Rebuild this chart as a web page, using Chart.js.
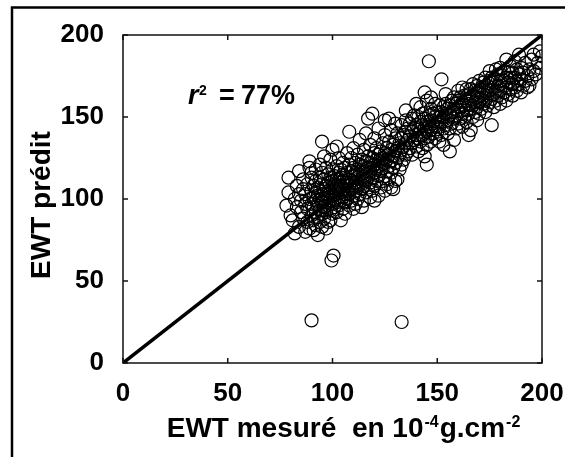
<!DOCTYPE html>
<html>
<head>
<meta charset="utf-8">
<script src="https://cdn.jsdelivr.net/npm/chart.js@4"></script>
<style>
  html, body { margin: 0; padding: 0; background: #fff; }
  #wrap { width: 565px; height: 457px; position: relative; }
</style>
</head>
<body>
<div id="wrap"><canvas id="graphique"></canvas></div>
<script>
// valeurs : [EWT mesuré, EWT prédit]
const points = [
  [78,96],[79,104],[79,113],[80,90],[81,87],[82,79],[82,100],[83,108],[83,95],[84,83],[84,103],[84,117],
  [85,92],[85,99],[86,88],[86,106],[86,112],[87,80],[87,97],[87,103],[88,86],[88,94],[88,109],[89,123],[89,119],[89,100],[89,82],[90,90],[90,97],[90,105],[90,113],[90,116],
  [91,81],[91,87],[91,95],[91,101],[91,108],[92,84],[92,92],[92,99],[92,104],[92,111],[92,118],[93,78],[93,89],[93,96],[93,102],[93,107],[94,86],[94,93],[94,100],[94,105],[94,113],[94,121],[95,135],[95,83],[95,91],[95,98],[95,103],[95,109],[95,116],
  [96,88],[96,95],[96,100],[96,106],[96,112],[96,126],[97,82],[97,92],[97,98],[97,103],[97,108],[97,119],[98,86],[98,96],[98,101],[98,105],[98,110],[98,115],[99,87],[99,93],[99,99],[99,104],[99,113],[99,124],[100,91],[100,97],[100,102],[100,107],[100,111],[100,118],[100,130],
  [101,95],[101,100],[101,105],[101,109],[101,114],[102,132],[102,92],[102,98],[102,103],[102,108],[102,112],[102,120],[103,96],[103,101],[103,106],[103,110],[103,116],[103,125],[104,87],[104,99],[104,104],[104,108],[104,113],[104,118],[105,94],[105,101],[105,106],[105,111],[105,115],[105,122],
  [106,91],[106,98],[106,103],[106,109],[106,113],[106,119],[107,100],[107,105],[107,110],[107,116],[107,128],[108,141],[108,96],[108,103],[108,108],[108,112],[108,121],[109,99],[109,106],[109,111],[109,117],[109,125],[110,94],[110,102],[110,108],[110,114],[110,119],[110,131],
  [111,97],[111,105],[111,110],[111,116],[111,122],[112,100],[112,107],[112,113],[112,118],[112,127],[113,103],[113,109],[113,115],[113,121],[113,136],[114,95],[114,106],[114,112],[114,118],[114,124],[115,99],[115,108],[115,114],[115,120],[115,130],
  [116,104],[116,111],[116,117],[116,123],[116,140],[117,149],[117,107],[117,113],[117,119],[117,126],[118,101],[118,110],[118,116],[118,122],[118,133],[119,152],[119,105],[119,113],[119,119],[119,125],[120,99],[120,108],[120,116],[120,121],[120,128],[120,137],
  [121,111],[121,118],[121,124],[121,131],[122,102],[122,114],[122,120],[122,127],[122,143],[123,107],[123,117],[123,123],[123,129],[124,111],[124,119],[124,125],[124,134],[125,148],[125,105],[125,114],[125,122],[125,128],[125,139],
  [126,109],[126,117],[126,124],[126,131],[127,149],[127,112],[127,120],[127,127],[127,135],[128,107],[128,116],[128,123],[128,130],[128,142],[129,106],[129,119],[129,126],[129,133],[130,111],[130,122],[130,129],[130,137],[130,146],
  [131,112],[131,125],[131,131],[131,140],[132,118],[132,127],[132,134],[133,121],[133,130],[133,137],[133,145],[134,124],[134,132],[134,139],[135,154],[135,127],[135,134],[135,141],[135,148],
  [136,129],[136,136],[136,143],[137,131],[137,138],[137,146],[138,127],[138,134],[138,141],[138,149],[139,136],[139,143],[139,151],[140,132],[140,139],[140,145],[140,158],
  [141,129],[141,137],[141,143],[141,150],[142,135],[142,141],[142,147],[142,156],[143,131],[143,139],[143,145],[143,152],[144,126],[144,165],[144,137],[144,143],[144,149],[145,121],[145,133],[145,141],[145,147],[145,160],
  [146,184],[146,138],[146,144],[146,151],[147,162],[147,135],[147,142],[147,148],[147,155],[148,140],[148,146],[148,152],[149,137],[149,144],[149,150],[149,158],[150,141],[150,147],[150,153],
  [151,135],[151,144],[151,150],[151,157],[152,173],[152,139],[152,147],[152,153],[153,133],[153,143],[153,150],[153,156],[154,164],[154,145],[154,152],[154,158],[155,140],[155,148],[155,155],
  [156,129],[156,143],[156,151],[156,157],[157,146],[157,153],[157,160],[158,136],[158,149],[158,155],[158,162],[159,143],[159,151],[159,158],[160,146],[160,154],[160,160],[160,166],
  [161,149],[161,156],[161,162],[162,168],[162,144],[162,152],[162,159],[163,150],[163,157],[163,163],[164,147],[164,154],[164,160],[164,167],[165,139],[165,152],[165,158],[165,164],
  [166,142],[166,155],[166,161],[166,167],[167,150],[167,157],[167,163],[167,170],[168,153],[168,159],[168,166],[169,148],[169,156],[169,162],[169,169],[170,152],[170,159],[170,165],[170,172],
  [171,155],[171,161],[171,168],[172,158],[172,164],[172,171],[173,153],[173,160],[173,166],[173,174],[174,157],[174,163],[174,169],[175,159],[175,166],[175,172],[175,178],
  [176,145],[176,161],[176,168],[176,174],[177,156],[177,164],[177,171],[178,160],[178,166],[178,173],[178,179],[179,163],[179,169],[179,176],[180,158],[180,166],[180,172],[180,180],
  [181,162],[181,169],[181,175],[182,165],[182,172],[182,178],[183,185],[183,160],[183,168],[183,174],[184,164],[184,171],[184,177],[185,167],[185,174],[185,181],
  [186,163],[186,170],[186,177],[187,168],[187,174],[187,184],[188,166],[188,172],[188,179],[189,170],[189,176],[189,188],[190,165],[190,173],[190,180],
  [191,169],[191,177],[192,172],[192,183],[193,175],[193,168],[194,169],[194,179],[195,173],[195,185],[196,178],[196,188],[197,176],[198,183],[199,180],[199,190],[200,187],
  [90,26],[133,25],[99.5,62.5],[100.5,65.5]
];

// droite 1:1
const ligneX = [0, 200];
const ligneY = [0, 200];

const graduations = [0, 50, 100, 150, 200];
const titreX = [['EWT mesuré  en 10', false], ['-4', true], ['g.cm', false], ['-2', true]];
const titreY = 'EWT prédit';
const texteR2 = ['r', '2', '=', '77%'];

const police = '"Liberation Sans", Arial, sans-serif';

const decor = {
  id: 'decor',
  beforeDraw(chart) {
    const ctx = chart.ctx;
    ctx.save();
    ctx.fillStyle = '#fff';
    ctx.fillRect(0, 0, chart.width, chart.height);
    // cadre extérieur (gauche et haut)
    ctx.strokeStyle = '#000';
    ctx.lineWidth = 2.5;
    ctx.beginPath();
    ctx.moveTo(12, chart.height);
    ctx.lineTo(12, 7.5);
    ctx.lineTo(chart.width, 7.5);
    ctx.stroke();
    ctx.restore();
  },
  afterDraw(chart) {
    const ctx = chart.ctx;
    const a = chart.chartArea;
    const sx = chart.scales.x, sy = chart.scales.y;
    ctx.save();
    ctx.strokeStyle = '#111';
    ctx.lineWidth = 1.5;
    ctx.strokeRect(a.left, a.top, a.right - a.left, a.bottom - a.top);
    // graduations vers l'intérieur, sur les quatre côtés
    ctx.beginPath();
    graduations.forEach(v => {
      const px = sx.getPixelForValue(v);
      ctx.moveTo(px, a.bottom); ctx.lineTo(px, a.bottom - 5);
      ctx.moveTo(px, a.top); ctx.lineTo(px, a.top + 5);
      const py = sy.getPixelForValue(v);
      ctx.moveTo(a.left, py); ctx.lineTo(a.left + 5, py);
      ctx.moveTo(a.right, py); ctx.lineTo(a.right - 5, py);
    });
    ctx.stroke();

    ctx.fillStyle = '#000';
    ctx.textBaseline = 'alphabetic';

    // titre axe x avec exposants
    const grand = 'bold 28px ' + police, petit = 'bold 16px ' + police;
    let total = 0;
    titreX.forEach(([t, sup]) => { ctx.font = sup ? petit : grand; total += ctx.measureText(t).width + (sup ? 2 : 0); });
    let x = 344 - total / 2;
    titreX.forEach(([t, sup]) => {
      ctx.font = sup ? petit : grand;
      ctx.textAlign = 'left';
      ctx.fillText(t, x + (sup ? 1 : 0), sup ? 427 : 437);
      x += ctx.measureText(t).width + (sup ? 2 : 0);
    });

    // titre axe y
    ctx.save();
    ctx.translate(50, 205);
    ctx.rotate(-Math.PI / 2);
    ctx.font = grand;
    ctx.textAlign = 'center';
    ctx.fillText(titreY, 0, 0);
    ctx.restore();

    // r² = 77%
    ctx.textAlign = 'left';
    ctx.font = 'italic bold 27px ' + police;
    ctx.fillText(texteR2[0], 188, 104);
    ctx.font = 'bold 14px ' + police;
    ctx.fillText(texteR2[1], 199, 95);
    ctx.font = 'bold 27px ' + police;
    ctx.fillText(texteR2[2], 219, 104);
    ctx.fillText(texteR2[3], 241, 104);
    ctx.restore();
  }
};

const policeGrad = { family: police, size: 26, weight: 'bold' };

new Chart(document.getElementById('graphique'), {
  type: 'scatter',
  data: {
    datasets: [
      {
        type: 'line',
        data: ligneX.map((v, i) => ({ x: v, y: ligneY[i] })),
        borderColor: '#000',
        borderWidth: 3.5,
        pointRadius: 0,
        order: 0
      },
      {
        type: 'scatter',
        data: points.map(p => ({ x: p[0], y: p[1] })),
        pointRadius: 6.5,
        borderWidth: 1.2,
        borderColor: '#000',
        backgroundColor: 'rgba(0,0,0,0)',
        order: 1
      }
    ]
  },
  options: {
    responsive: true,
    maintainAspectRatio: false,
    animation: false,
    layout: { padding: { left: 0, top: 35, right: 23, bottom: 0 } },
    plugins: { legend: { display: false }, tooltip: { enabled: false } },
    scales: {
      x: {
        type: 'linear', min: 0, max: 200,
        ticks: { stepSize: 50, font: policeGrad, color: '#000', padding: 15, maxRotation: 0 },
        grid: { display: false, drawTicks: false },
        border: { display: false },
        afterFit: s => { s.height = 94; s.paddingLeft = 0; s.paddingRight = 0; }
      },
      y: {
        type: 'linear', min: 0, max: 200,
        ticks: { stepSize: 50, font: policeGrad, color: '#000', padding: 19 },
        grid: { display: false, drawTicks: false },
        border: { display: false },
        afterFit: s => { s.width = 123; s.paddingTop = 0; s.paddingBottom = 0; }
      }
    }
  },
  plugins: [decor]
});
</script>
</body>
</html>
